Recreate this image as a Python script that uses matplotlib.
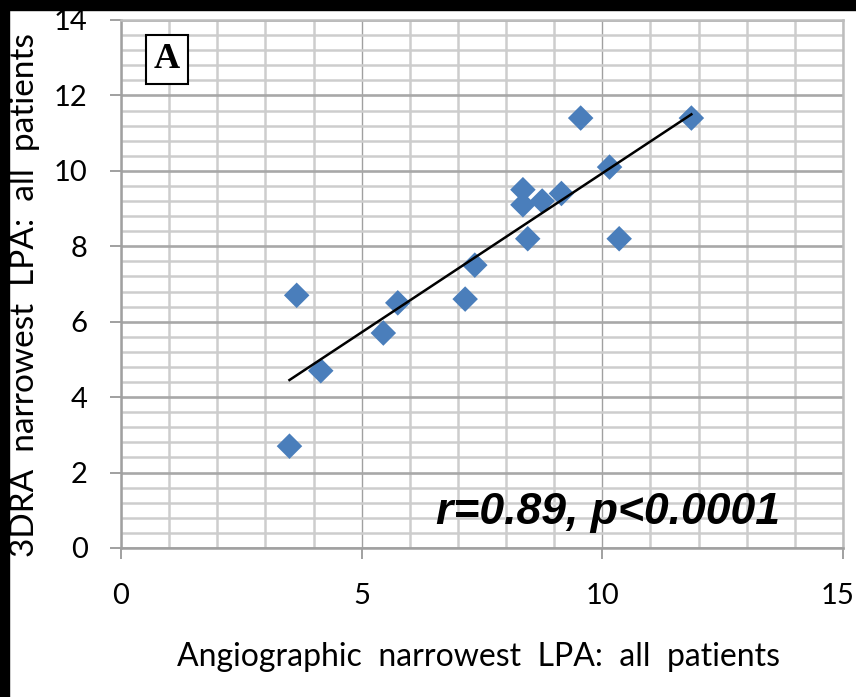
import numpy as np
import matplotlib
matplotlib.use("Agg")
import matplotlib.pyplot as plt
from matplotlib.patches import Rectangle
from matplotlib.ticker import MultipleLocator
from matplotlib.transforms import ScaledTranslation

# Data
angio_x = [3.5, 3.65, 4.15, 5.45, 5.75, 7.15, 7.35, 8.35, 8.35, 8.45, 8.75, 9.15, 9.55, 10.15, 10.35, 11.85]
dra_y   = [2.7, 6.7, 4.7, 5.7, 6.5, 6.6, 7.5, 9.5, 9.1, 8.2, 9.2, 9.4, 11.4, 10.1, 8.2, 11.4]
x_ticks = [0, 5, 10, 15]
y_ticks = [0, 2, 4, 6, 8, 10, 12, 14]
annot = "r=0.89, p<0.0001"
panel = "A"
xlabel = "Angiographic  narrowest  LPA:  all  patients"
ylabel = "3DRA  narrowest  LPA:  all  patients"

W, H = 856, 697
fig = plt.figure(figsize=(W/100, H/100), dpi=100)
fig.patch.set_facecolor("white")
ax = fig.add_axes([121/W, 1-548/H, (843-121)/W, (548-20)/H])

ax.set_xlim(0, 15)
ax.set_ylim(0, 14)
ax.xaxis.set_minor_locator(MultipleLocator(1))
ax.yaxis.set_minor_locator(MultipleLocator(0.4))
ax.set_xticks(x_ticks)
ax.set_yticks(y_ticks)

ax.grid(which="minor", axis="both", color="#cdcdcd", lw=1.8, zorder=0)
ax.grid(which="major", axis="y", color="#a8a8a8", lw=1.9, zorder=0)
ax.grid(which="major", axis="x", color="#a0a0a0", lw=1.0, zorder=0)
ax.set_axisbelow(True)

for s in ["top", "right"]:
    ax.spines[s].set_color("#bdbdbd")
    ax.spines[s].set_linewidth(1.8)
for s in ["left", "bottom"]:
    ax.spines[s].set_color("#a0a0a0")
    ax.spines[s].set_linewidth(1.8)

ax.tick_params(which="minor", length=0)
ax.tick_params(which="major", direction="out", length=8, width=1.4, color="#a0a0a0",
               labelsize=21, labelcolor="black")
ax.tick_params(axis="y", pad=16)
ax.tick_params(axis="x", pad=17)
for lab in ax.get_xticklabels() + ax.get_yticklabels():
    lab.set_fontfamily("Lato")
# nudge the last x tick label so it stays inside the figure, as in the reference
last = ax.get_xticklabels()[-1]
last.set_transform(last.get_transform() + ScaledTranslation(-4/72, 0, fig.dpi_scale_trans))

ax.scatter(angio_x, dra_y, marker="D", s=13**2, color="#4a7ebb", edgecolors="none", zorder=3)

coef = np.polyfit(angio_x, dra_y, 1)
xs = np.array([min(angio_x), max(angio_x)])
ax.plot(xs, np.polyval(coef, xs), color="black", lw=1.8, zorder=4)

ax.text(13.7, 0.95, annot, ha="right", va="center", fontsize=32, fontweight="bold",
        fontstyle="italic", family="Liberation Sans", zorder=5)

ax.text(0.95, 12.96, panel, ha="center", va="center", fontsize=26, fontweight="bold",
        family="Liberation Serif", zorder=5,
        bbox=dict(boxstyle="square,pad=0.22", fc="white", ec="black", lw=1.5))

fig.text(478/W, 1-657/H, xlabel, ha="center", va="center", fontsize=23, family="Lato")
fig.text(25/W, 1-295/H, ylabel, ha="center", va="center", fontsize=24, family="Lato", rotation=90)

fig.patches.append(Rectangle((0, 0), 9/W, 1, transform=fig.transFigure, color="black", zorder=10))
fig.patches.append(Rectangle((0, 1-10/H), 1, 10/H, transform=fig.transFigure, color="black", zorder=10))

fig.savefig("out.png", dpi=100)
